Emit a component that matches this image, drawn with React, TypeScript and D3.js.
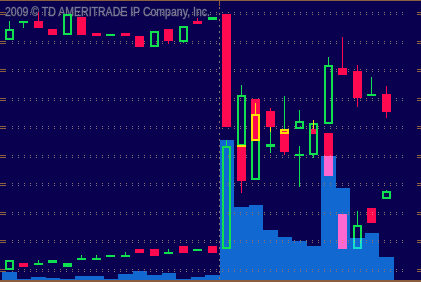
import React from 'react';
import * as d3 from 'd3';

const W = 421;
const H = 282;

// 27 time slots
const slots = d3.range(27);

// Series A (upper price series)
const aOpen = [80.2, 86.2, 86.8, 84.0, 82.0, 88.2, 82.6, 81.7, 82.6, 81.7, 77.7, 84.0, 79.5, 86.8, 87.2, 89.3, 43.1, 59.5, 55.3, 49.0, 49.0, 39.9, 50.8, 70.4, 69.3, 60.6, 61.3];
const aHigh = [86.8, 86.8, 90.0, 84.0, 89.3, 88.2, 82.6, 82.4, 82.6, 81.7, 83.3, 84.0, 85.1, 87.9, 88.2, 89.3, 64.4, 59.5, 56.4, 49.0, 55.7, 51.1, 74.2, 81.2, 71.4, 67.2, 64.1];
const aLow = [80.2, 84.5, 84.5, 82.0, 82.0, 82.0, 81.7, 81.7, 81.7, 77.7, 77.7, 78.8, 79.1, 85.8, 87.2, 49.7, 43.1, 44.8, 49.7, 39.9, 49.0, 38.9, 50.8, 67.9, 56.7, 60.6, 52.9];
const aClose = [84.0, 86.8, 84.5, 82.0, 89.3, 82.0, 81.7, 82.4, 81.7, 77.7, 83.3, 79.8, 85.1, 85.8, 88.2, 49.7, 60.9, 44.8, 49.7, 41.0, 51.8, 51.1, 71.4, 67.9, 59.9, 61.3, 55.0];

// Series B (lower price series)
const bOpen = [-0.3, 2.1, 1.4, 2.0, 0.8, 3.2, 3.2, 4.2, 4.2, 7.0, 7.0, 5.3, 8.1, 6.3, 8.1, 7.0, 43.1, 31.2, 42.7, 43.8, 39.6, 49.0, 47.6, 19.3, 7.0, 21.4, 24.5];
const bHigh = [3.2, 2.1, 3.2, 3.2, 2.1, 4.9, 4.9, 4.9, 6.0, 7.0, 7.0, 7.0, 8.1, 7.0, 8.1, 45.2, 43.1, 54.3, 48.0, 60.6, 43.1, 49.0, 47.6, 19.3, 20.3, 21.4, 27.7];
const bLow = [-0.3, 0.7, 1.4, 2.0, 0.8, 3.2, 3.2, 4.2, 4.2, 5.6, 4.6, 5.3, 5.6, 6.3, 5.6, 7.0, 26.6, 31.2, 40.6, 43.8, 28.7, 47.3, 32.6, 7.0, 7.0, 16.1, 24.5];
const bClose = [3.2, 0.7, 2.1, 3.2, 2.1, 3.9, 3.9, 4.9, 4.9, 5.6, 4.6, 6.0, 5.6, 7.0, 5.6, 43.1, 30.8, 54.3, 43.8, 49.0, 40.3, 47.3, 32.6, 7.0, 15.4, 16.1, 27.3];

// Series C (yellow overlay)
const cSlots = [16, 17, 18, 19, 21];
const cOpen = [43.1, 44.8, 49.7, 47.3, 49.0];
const cHigh = [43.1, 58.1, 49.7, 49.0, 52.2];
const cLow = [43.1, 44.8, 48.0, 47.3, 49.0];
const cClose = [43.1, 54.3, 49.7, 49.0, 49.0];

// Volume per slot
const volume = [800, 100, 300, 200, 100, 400, 400, 100, 600, 900, 500, 700, 100, 300, 500, 14000, 7300, 7500, 5000, 4300, 3900, 3400, 12400, 9200, 4200, 4700, 2300];

const gridLevels = d3.range(0, 100, 10);
const sessionBreakSlot = 15;
const blendFromSlot = 22;

const C = {
  bg: '#0a0050',
  green: '#10e050',
  red: '#ff0a50',
  yellow: '#ffe000',
  blue: '#1068d0',
  dot: '#8a7272',
  brown: '#8c5e40',
  text: '#7a7aa0',
  textStroke: '#2e2e58',
};

const x = d3.scaleBand<number>().domain(slots).range([2, 393.5]).padding(0);
const y = d3.scaleLinear().domain([0, 90]).range([269, 12]);
const yv = d3.scaleLinear().domain([0, 14000]).range([280, 140]);

type CandleProps = {
  slot: number;
  o: number;
  h: number;
  l: number;
  c: number;
  up: string;
  down: string;
  hollowDown?: boolean;
  wickOnlyDoji?: boolean;
  blend?: boolean;
};

function Candle({ slot, o, h, l, c, up, down, hollowDown, wickOnlyDoji, blend }: CandleProps) {
  const cx = (x(slot) as number) + x.bandwidth() / 2;
  const x0 = Math.round(cx - 4.5);
  const isUp = c >= o;
  const col = isUp ? up : down;
  const yTop = Math.round(y(Math.max(o, c)));
  const yBot = Math.round(y(Math.min(o, c)));
  const yH = Math.round(y(h));
  const yL = Math.round(y(l));
  const bh = yBot - yTop;
  const hollow = isUp || hollowDown;
  const style = blend ? { mixBlendMode: 'lighten' as const } : undefined;
  const parts: React.ReactNode[] = [];
  if (yH < yTop) parts.push(<rect key="wh" x={x0 + 4} y={yH} width={1} height={yTop - yH} fill={col} />);
  if (yL > yBot) parts.push(<rect key="wl" x={x0 + 4} y={yBot} width={1} height={yL - yBot} fill={col} />);
  const skipBody = wickOnlyDoji && o === c && h !== l;
  if (skipBody) {
    // wick only
  } else if (bh <= 3) {
    const hh = Math.max(2, bh);
    parts.push(<rect key="b" x={x0} y={bh < 2 ? yTop - 1 : yTop} width={9} height={hh} fill={col} />);
  } else if (hollow) {
    parts.push(<rect key="b" x={x0 + 1} y={yTop + 1} width={7} height={bh - 2} fill="none" stroke={col} strokeWidth={2} />);
  } else {
    parts.push(<rect key="b" x={x0} y={yTop} width={9} height={bh} fill={col} />);
  }
  return <g style={style}>{parts}</g>;
}

export default function App() {
  const breakX = Math.floor(x(sessionBreakSlot) as number);
  return (
    <svg
      width={W}
      height={H}
      style={{ position: 'absolute', left: 0, top: 0, display: 'block' }}
      shapeRendering="crispEdges"
    >
      <rect x={0} y={0} width={W} height={H} fill={C.bg} />
      <text
        x={5}
        y={16}
        fontFamily="'Liberation Sans', Arial, sans-serif"
        fontSize={12}
        fill={C.text}
        stroke={C.textStroke}
        strokeWidth={1}
        paintOrder="stroke"
        textLength={205}
        lengthAdjust="spacingAndGlyphs"
        shapeRendering="auto"
      >
        2009 © TD AMERITRADE IP Company, Inc.
      </text>

      {/* volume */}
      <g>
        {slots.map((i) => (
          <rect
            key={i}
            x={x(i) as number}
            y={yv(volume[i])}
            width={x.bandwidth()}
            height={280 - yv(volume[i])}
            fill={C.blue}
          />
        ))}
      </g>

      {/* grid */}
      <g>
        {gridLevels.map((lv) => {
          const gy = Math.round(y(lv));
          return (
            <g key={lv}>
              {[0, 2].map((dy) => (
                <g key={dy}>
                  <line x1={12} x2={408} y1={gy + dy + 0.5} y2={gy + dy + 0.5} stroke={C.dot} strokeWidth={1} strokeDasharray="1 5" />
                  <rect x={0} y={gy + dy} width={6} height={1} fill={C.brown} />
                  <rect x={417} y={gy + dy} width={4} height={1} fill={C.brown} />
                </g>
              ))}
            </g>
          );
        })}
        <rect x={breakX} y={0} width={1} height={6} fill={C.brown} />
        <line x1={breakX + 0.5} x2={breakX + 0.5} y1={7} y2={280} stroke={C.dot} strokeWidth={1} strokeDasharray="2 4" />
      </g>

      {/* series B */}
      <g>
        {slots.map((i) => (
          <Candle
            key={i}
            slot={i}
            o={bOpen[i]}
            h={bHigh[i]}
            l={bLow[i]}
            c={bClose[i]}
            up={C.green}
            down={C.red}
            blend={i >= blendFromSlot}
          />
        ))}
      </g>
      {/* series A */}
      <g>
        {slots.map((i) => (
          <Candle key={i} slot={i} o={aOpen[i]} h={aHigh[i]} l={aLow[i]} c={aClose[i]} up={C.green} down={C.red} />
        ))}
      </g>
      {/* series C */}
      <g>
        {cSlots.map((s, k) => (
          <Candle
            key={s}
            slot={s}
            o={cOpen[k]}
            h={cHigh[k]}
            l={cLow[k]}
            c={cClose[k]}
            up={C.yellow}
            down={C.yellow}
            hollowDown
            wickOnlyDoji
          />
        ))}
      </g>

      <rect x={0} y={0} width={W} height={1} fill={C.brown} />
      <rect x={0} y={280} width={W} height={2} fill={C.brown} />
    </svg>
  );
}
